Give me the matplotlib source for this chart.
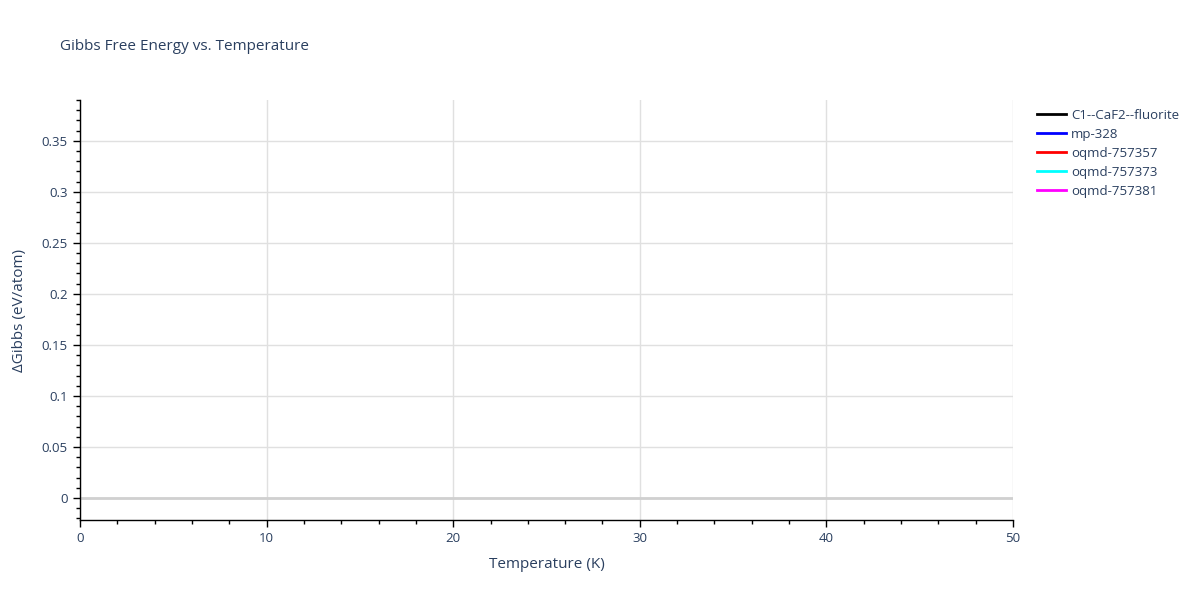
import matplotlib
matplotlib.use("Agg")
import matplotlib.pyplot as plt
from matplotlib.ticker import MultipleLocator, FuncFormatter
from matplotlib.lines import Line2D

plt.rcParams['font.family'] = ['Open Sans', 'DejaVu Sans']

series_names = ["C1--CaF2--fluorite", "mp-328", "oqmd-757357", "oqmd-757373", "oqmd-757381"]
series_colors = ["black", "blue", "red", "cyan", "magenta"]
# No data points are visible inside the plotted range
series_T = [[], [], [], [], []]
series_G = [[], [], [], [], []]

TXT = '#2a3f5f'
W, H = 1200, 600
fig = plt.figure(figsize=(12, 6), dpi=100)
ax = fig.add_axes([80 / W, 1 - 520 / H, (1013 - 80) / W, (520 - 100) / H])

for name, col, t, g in zip(series_names, series_colors, series_T, series_G):
    ax.plot(t, g, color=col, lw=2, label=name)

ax.set_xlim(0, 50)
ax.set_ylim(-0.0216, 0.39)

ax.xaxis.set_major_locator(MultipleLocator(10))
ax.xaxis.set_minor_locator(MultipleLocator(2))
ax.yaxis.set_major_locator(MultipleLocator(0.05))
ax.yaxis.set_minor_locator(MultipleLocator(0.01))

def yfmt(v, p):
    s = f"{v:.2f}".rstrip('0').rstrip('.')
    if s in ('-0',):
        s = '0'
    return s
ax.yaxis.set_major_formatter(FuncFormatter(yfmt))

ax.grid(True, which='major', color='#e0e0e0', lw=1)
ax.axhline(0, color='#d0d0d0', lw=2, zorder=1)
ax.set_axisbelow(True)

for s in ['top', 'right']:
    ax.spines[s].set_visible(False)
for s in ['left', 'bottom']:
    ax.spines[s].set_color('black')
    ax.spines[s].set_linewidth(1)

ax.tick_params(which='major', direction='out', length=5, width=1, color='black',
               labelsize=9.5, labelcolor=TXT, pad=4)
ax.tick_params(which='minor', direction='out', length=3, width=1, color='black')

ax.set_xlabel("Temperature (K)", fontsize=11, color=TXT, labelpad=8)
ax.set_ylabel("ΔGibbs (eV/atom)", fontsize=11, color=TXT, labelpad=10)

fig.text(60 / W, 1 - 46 / H, "Gibbs Free Energy vs. Temperature", fontsize=11,
         color=TXT, va='center', ha='left')

handles = [Line2D([0], [0], color=c, lw=2) for c in series_colors]
leg = fig.legend(handles, series_names, loc='upper left',
                 bbox_to_anchor=(1037 / W, 1 - 109 / H), frameon=False,
                 fontsize=9.5, handlelength=2.2, handletextpad=0.4,
                 labelspacing=0.45, borderaxespad=0, borderpad=0)
for t in leg.get_texts():
    t.set_color(TXT)

fig.savefig("out.png", dpi=100)
